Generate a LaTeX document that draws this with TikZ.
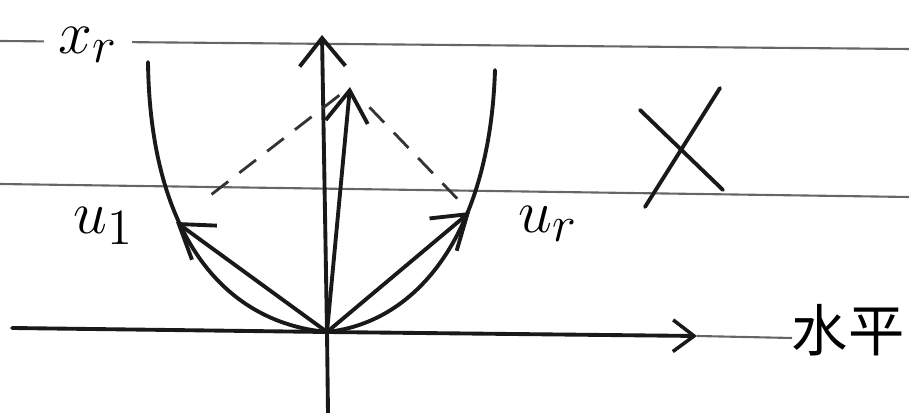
\documentclass[tikz,border=0pt]{standalone}
\usepackage{fontspec}
\newfontfamily\cjk{Noto Sans CJK SC}
\usetikzlibrary{arrows.meta}
\tikzset{
  ink/.style={line width=1.1pt, line cap=round, line join=round, draw=black!90},
  guide/.style={line width=0.6pt, draw=black!60},
  vec/.style={ink, -{Straight Barb[length=9pt,width=12pt,line width=1.1pt]}},
  dashline/.style={line width=0.8pt, draw=black!80, dash pattern=on 6pt off 4pt},
  lbl/.style={inner sep=1pt, font=\fontsize{19}{22}\selectfont},
}
\begin{document}
\begin{tikzpicture}[x=0.01cm,y=-0.01cm]
\useasboundingbox (0,0) rectangle (909,413);
% guide lines
\coordinate (TL) at (0,41);
\coordinate (TR) at (909,49);
\coordinate (ML) at (0,184);
\coordinate (MR) at (909,197);
\draw[guide] (TL) -- (TR);
\draw[guide] (ML) -- (MR);
\node[lbl, fill=white, inner xsep=4pt] (xr) at (88,45) {$x_r$};
% axes
\coordinate (O) at (327,332);
\coordinate (AL) at (12,328);
\coordinate (AR) at (697,336);
\coordinate (AE) at (792,338);
\coordinate (VB) at (328,413);
\coordinate (VT) at (322,35);
\draw[ink] (AL) -- (O);
\draw[ink, -{Straight Barb[length=6pt,width=9pt,line width=1pt]}] (O) -- (AR);
\draw[guide] (AR) -- (AE);
\node[inner sep=0pt, font=\cjk\fontsize{16}{18}\selectfont] (hz) at (848,330) {水平};
\draw[ink] (VB) -- (O);
\draw[ink, -{Straight Barb[length=8pt,width=13pt,line width=1.1pt]}] (O) -- (VT);
% curve
\coordinate (CL) at (148,62);
\coordinate (CR) at (495,70);
\draw[ink] (CL) .. controls (150,230) and (220,322) .. (O);
\draw[ink] (O) .. controls (420,322) and (490,230) .. (CR);
% vectors
\coordinate (U1) at (176,222);
\coordinate (UR) at (470,212);
\coordinate (S) at (350,87);
\draw[vec] (O) -- (U1);
\draw[vec] (O) -- (UR);
\draw[vec] (O) -- (S);
\draw[dashline, shorten <=45pt*0.2845] (U1) -- (S);
\draw[dashline, shorten <=8pt, shorten >=4pt] (S) -- (UR);
% labels
\node[lbl] (u1) at (104,226) {$u_1$};
\node[lbl] (ur) at (548,224) {$u_r$};
% cross
\coordinate (X1) at (640,110);
\coordinate (X2) at (723,190);
\coordinate (X3) at (720,88);
\coordinate (X4) at (645,207);
\draw[ink] (X1) -- (X2);
\draw[ink] (X3) -- (X4);
\end{tikzpicture}
\end{document}
